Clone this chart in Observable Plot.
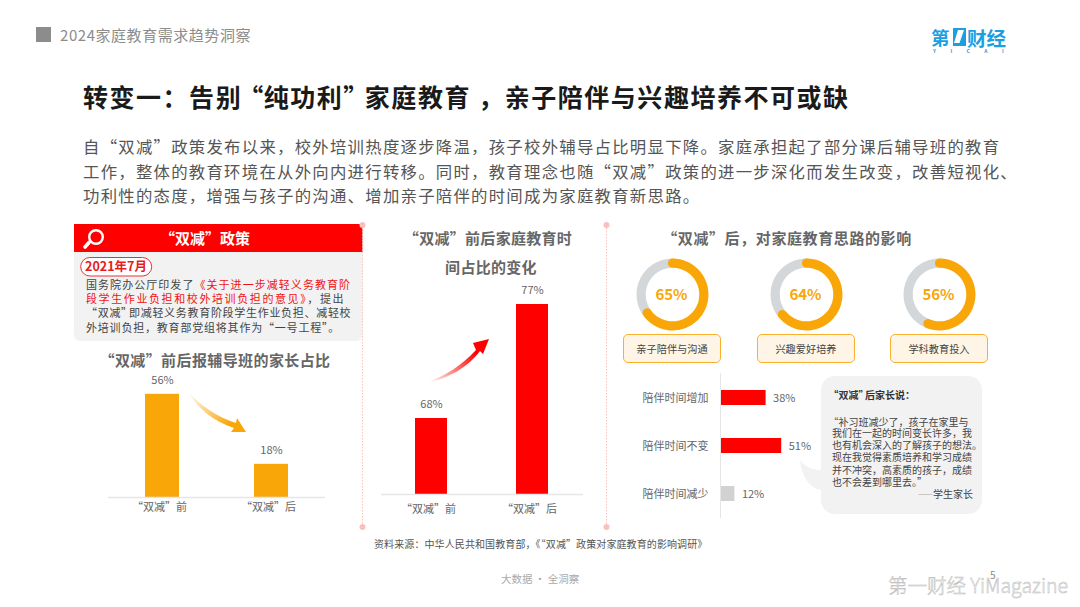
<!DOCTYPE html>
<html lang="zh-CN">
<head>
<meta charset="utf-8">
<script src="https://cdn.jsdelivr.net/npm/d3@7"></script>
<script src="https://cdn.jsdelivr.net/npm/@observablehq/plot@0.6"></script>
<style>
html,body{margin:0;padding:0;background:#fff;}
#page{position:relative;width:1080px;height:607px;overflow:hidden;background:#fff;font-family:"Noto Sans CJK SC","Noto Sans",sans-serif;}
.t{position:absolute;white-space:nowrap;line-height:1;}
.c{transform:translateX(-50%);}
.chart{position:absolute;}
.chart svg{background:transparent!important;overflow:visible;display:block;}
.h{font-size:15px;font-weight:700;color:#666;}
.box{position:absolute;box-sizing:border-box;background:#fff5e6;border:1px solid #fbb02d;border-radius:5px;text-align:center;font-size:10.2px;color:#444;line-height:27px;height:29px;top:334px;}
.p{font-size:11px;color:#444;}
.q{font-size:10px;color:#444;}
.b{left:83px;font-size:16.4px;color:#555;letter-spacing:1.25px;}
.lq{margin-left:-.45em;}
.rq{margin-right:-.35em;}
</style>
</head>
<body>
<div id="page">
  <svg id="deco" width="1080" height="607" style="position:absolute;left:0;top:0">
    <defs>
      <linearGradient id="ga" x1="187" y1="391" x2="246" y2="432" gradientUnits="userSpaceOnUse">
        <stop offset="0" stop-color="#f9a609" stop-opacity="0"/><stop offset="0.75" stop-color="#f9a609"/>
      </linearGradient>
      <linearGradient id="gb" x1="428" y1="382" x2="489" y2="339" gradientUnits="userSpaceOnUse">
        <stop offset="0" stop-color="#ff0000" stop-opacity="0"/><stop offset="0.75" stop-color="#ff0000"/>
      </linearGradient>
    </defs>
    <rect x="36" y="27" width="15" height="15" fill="#8c8c8c"/>
    <path d="M953 28H966V46H953Z" fill="#1a9fe3"/>
    <path d="M958 30H964L959.5 43H954Z" fill="#fff"/>
    <path d="M74 252H362.5V335a6 6 0 0 1-6 6H80a6 6 0 0 1-6-6Z" fill="#f2f2f2"/>
    <rect x="74" y="224" width="288.5" height="28" fill="#ff0000"/>
    <circle cx="96" cy="237" r="6.8" fill="none" stroke="#fff" stroke-width="2.4"/>
    <line x1="89" y1="242.5" x2="85" y2="247" stroke="#fff" stroke-width="3.6" stroke-linecap="round"/>
    <rect x="80.7" y="257.5" width="71" height="18.5" rx="9.2" fill="#fff" stroke="#f03030" stroke-width="1"/>
    <g stroke="#f8c4bc" stroke-width="1" stroke-dasharray="1.5 1.5">
      <line x1="362.5" y1="225" x2="362.5" y2="527"/>
      <line x1="606.5" y1="225" x2="606.5" y2="527"/>
    </g>
    <g fill="#f9c0bd">
      <circle cx="362.5" cy="225" r="3"/><circle cx="362.5" cy="527" r="3"/>
      <circle cx="606.5" cy="225" r="3"/><circle cx="606.5" cy="527" r="3"/>
    </g>
    <path d="M187 391C200 405 217 417 236 423L237 418L246 432L231 432L234 428C212 421 197 407 187 391Z" fill="url(#ga)"/>
    <path d="M428 382C445 376 462 365 476 350L473 343L489 339L483 354L480 351C468 367 448 379 428 382Z" fill="url(#gb)"/>
    <path d="M835 376H968a14 14 0 0 1 14 14V500a14 14 0 0 1-14 14H835a14 14 0 0 1-14-14V490C810 488 802 478 800 460C806 468 814 470 821 470V390a14 14 0 0 1 14-14Z" fill="#f2f2f2"/>
  </svg>

  <div class="t" style="left:60px;top:27px;font-size:15px;color:#8c8c8c;letter-spacing:.55px;">2024家庭教育需求趋势洞察</div>
  <div class="t" style="left:931px;top:28px;font-size:18.5px;font-weight:700;color:#1a9fe3;">第</div>
  <div class="t" style="left:967px;top:28px;font-size:19.5px;font-weight:700;color:#1a9fe3;">财经</div>
  <div class="t" style="left:933px;top:48px;font-size:5px;font-weight:700;color:#1a9fe3;letter-spacing:14.5px;">YICAI</div>

  <div class="t" style="left:83px;top:84px;font-size:25px;font-weight:700;color:#1a1a1a;letter-spacing:1.53px;">转变一：告别<span style="margin-left:-4px;margin-right:-1px">“</span>纯功利<span style="margin-right:-5px">”</span>家庭教育 ，亲子陪伴与兴趣培养不可或缺</div>
  <div class="t b" style="top:138px;">自“双减”政策发布以来，校外培训热度逐步降温，孩子校外辅导占比明显下降。家庭承担起了部分课后辅导班的教育</div>
  <div class="t b" style="top:163px;">工作，整体的教育环境在从外向内进行转移。同时，教育理念也随“双减”政策的进一步深化而发生改变，改善短视化、</div>
  <div class="t b" style="top:187px;">功利性的态度，增强与孩子的沟通、增加亲子陪伴的时间成为家庭教育新思路。</div>

  <div class="t c" style="left:205px;top:230px;font-size:15px;font-weight:700;color:#fff;">“双减”政策</div>
  <div class="t c" style="left:116px;top:260px;font-size:12.5px;font-weight:700;color:#e81c1c;">2021年7月</div>
  <div class="t p" style="left:86px;top:279px;letter-spacing:1.05px;">国务院办公厅印发了<span style="color:#f01414">《关于进一步减轻义务教育阶</span></div>
  <div class="t p" style="left:86px;top:293px;letter-spacing:1.6px;"><span style="color:#f01414">段学生作业负担和校外培训负担的意见》</span>，提出</div>
  <div class="t p" style="left:86px;top:307px;letter-spacing:.7px;">“双减<span style="margin-right:-3.8px">”</span>即减轻义务教育阶段学生作业负担、减轻校</div>
  <div class="t p" style="left:86px;top:322px;letter-spacing:.8px;">外培训负担，教育部党组将其作为“一号工程”。</div>

  <div class="t c h" style="left:215px;top:352px;letter-spacing:.4px;">“双减”前后报辅导班的家长占比</div>
  <div class="t c h" style="left:488px;top:230px;letter-spacing:.3px;">“双减”前后家庭教育时</div>
  <div class="t c h" style="left:491px;top:259px;letter-spacing:.3px;">间占比的变化</div>
  <div class="t c h" style="left:787px;top:230px;letter-spacing:.6px;">“双减”后，对家庭教育思路的影响</div>

  <div class="box" style="left:623px;width:98px;">亲子陪伴与沟通</div>
  <div class="box" style="left:757px;width:98px;">兴趣爱好培养</div>
  <div class="box" style="left:890px;width:98px;">学科教育投入</div>

  <div class="t" style="left:833px;top:390px;font-size:10px;font-weight:700;color:#333;"><span class="lq">“</span>双减<span class="rq">”</span>后家长说：</div>
  <div class="t q" style="left:833px;top:417px;"><span class="lq">“</span>补习班减少了，孩子在家里与</div>
  <div class="t q" style="left:832px;top:428px;">我们在一起的时间变长许多，我</div>
  <div class="t q" style="left:832px;top:440px;">也有机会深入的了解孩子的想法。</div>
  <div class="t q" style="left:832px;top:452px;">现在我觉得素质培养和学习成绩</div>
  <div class="t q" style="left:832px;top:465px;">并不冲突，高素质的孩子，成绩</div>
  <div class="t q" style="left:832px;top:477px;">也不会差到哪里去。”</div>
  <div class="t q" style="left:918px;top:489px;"><span style="font-size:7.5px">——</span>学生家长</div>

  <div class="t" style="left:374px;top:539px;font-size:10px;color:#555;letter-spacing:.1px;">资料来源：中华人民共和国教育部，《“双减”政策对家庭教育的影响调研》</div>
  <div class="t" style="left:501px;top:574px;font-size:10.5px;color:#aaa;">大数据 · 全洞察</div>
  <div class="t" style="left:990px;top:570px;font-size:10px;color:#888;">5</div>
  <div class="t" style="left:888px;top:575px;font-size:19.5px;font-weight:300;color:#fff;-webkit-text-stroke:.5px #b8b8b8;">第一财经 YiMagazine</div>
</div>
<script>
const beforeAfter = ["“双减”前", "“双减”后"];
const tutoringShare = [56, 18];
const homeTimeShare = [68, 77];
const donutValues = [65, 64, 56];
const timeCategories = ["陪伴时间增加", "陪伴时间不变", "陪伴时间减少"];
const timeValues = [38, 51, 12];
const orange = "#f9a609", red = "#ff0000", ringGray = "#d3d7d9", barGray = "#d2d2d2";
const font = '"Noto Sans CJK SC","Noto Sans",sans-serif';
const page = document.getElementById("page");

function mount(fig, left, top) {
  const d = document.createElement("div");
  d.className = "chart";
  d.style.left = left + "px";
  d.style.top = top + "px";
  d.appendChild(fig);
  page.appendChild(d);
}

function columns(values, color, o) {
  const rows = beforeAfter.map((k, i) => ({k, v: values[i]}));
  return Plot.plot({
    width: o.width, height: o.height,
    marginTop: 0, marginLeft: 0, marginRight: 0, marginBottom: o.marginBottom,
    style: {fontFamily: font, background: "transparent"},
    x: {domain: beforeAfter, paddingInner: o.pi, paddingOuter: o.po, label: null},
    y: {domain: o.domain, label: null},
    marks: [
      Plot.axisX({tickSize: 0, tickPadding: o.tickPad, dx: -3, fontSize: 11, color: "#666", label: null}),
      Plot.axisY({ticks: []}),
      Plot.barY(rows, {x: "k", y1: o.domain[0], y2: "v", fill: color}),
      Plot.ruleY([o.domain[0]], {stroke: "#e6e6e6", strokeWidth: 1.5}),
      Plot.text(rows, {x: "k", y: "v", text: d => d.v + "%", dy: -14, fontSize: 11, fill: "#666"})
    ]
  });
}

mount(columns(tutoringShare, orange, {width: 217, height: 155, marginBottom: 26, pi: .688, po: .339, domain: [0, 70], tickPad: 6}), 108, 368);
mount(columns(homeTimeShare, red, {width: 202, height: 254, marginBottom: 26, pi: .683, po: .3415, domain: [62, 80], tickPad: 11}), 381, 266);

function donut(value) {
  const arc = (a, b, key) => d3.range(0, 61).map(i => {
    const t = (a + (b - a) * i / 60) * 2 * Math.PI;
    return {key, x: Math.sin(t), y: Math.cos(t)};
  });
  const share = value / 100;
  return Plot.plot({
    width: 72, height: 72, margin: 0,
    style: {fontFamily: font, background: "transparent"},
    x: {domain: [-1.148, 1.148], axis: null},
    y: {domain: [-1.148, 1.148], axis: null},
    marks: [
      Plot.line(arc(share, 1, "rest"), {x: "x", y: "y", stroke: ringGray, strokeWidth: 9.2}),
      Plot.line(arc(0, share, "value"), {x: "x", y: "y", stroke: orange, strokeWidth: 9.2}),
      Plot.text([value + "%"], {x: [0], y: [0], dy: 1, dx: -1, text: d => d, fontSize: 15, fontWeight: 700, fill: orange})
    ]
  });
}
[636, 770, 903].forEach((left, i) => mount(donut(donutValues[i]), left, 258));

const timeRows = timeCategories.map((k, i) => ({k, v: timeValues[i]}));
mount(Plot.plot({
  width: 190, height: 145,
  marginLeft: 90, marginRight: 16, marginTop: 0, marginBottom: 0,
  style: {fontFamily: font, background: "transparent"},
  x: {domain: [0, 70], axis: null},
  y: {domain: timeCategories, paddingInner: .6875, paddingOuter: .354, label: null},
  marks: [
    Plot.axisY({tickSize: 0, tickPadding: 11, dx: -1, fontSize: 11, color: "#666", label: null}),
    Plot.barX(timeRows, {y: "k", x: "v", x1: 0.8, fill: d => d.v === 12 ? barGray : red}),
    Plot.ruleX([0], {stroke: "#e6e6e6", strokeWidth: 1}),
    Plot.text(timeRows, {y: "k", x: "v", text: d => d.v + "%", dx: 7, textAnchor: "start", fontSize: 11, fill: "#666"})
  ]
}), 630, 373);
</script>
</body>
</html>
